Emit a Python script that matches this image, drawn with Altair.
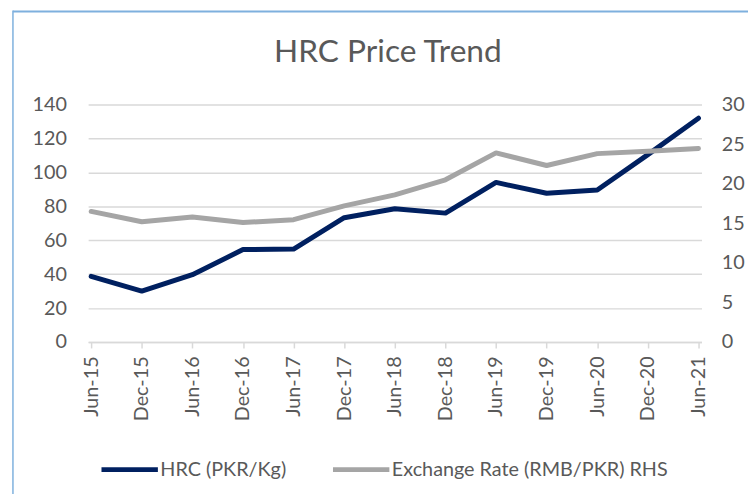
import altair as alt
import pandas as pd

title_text = "HRC Price Trend"
dates = ["Jun-15", "Dec-15", "Jun-16", "Dec-16", "Jun-17", "Dec-17", "Jun-18",
         "Dec-18", "Jun-19", "Dec-19", "Jun-20", "Dec-20", "Jun-21"]
hrc = [38.7, 30.0, 39.7, 54.5, 54.8, 73.3, 78.6, 76.0, 94.1, 87.7, 89.6, 110.5, 132.0]
fx = [16.5, 15.2, 15.8, 15.1, 15.45, 17.2, 18.6, 20.5, 23.9, 22.3, 23.8, 24.1, 24.45]
series_names = ["HRC (PKR/Kg)", "Exchange Rate (RMB/PKR) RHS"]
series_colors = ["#002060", "#A5A5A5"]
left_ticks = [0, 20, 40, 60, 80, 100, 120, 140]
right_ticks = [0, 5, 10, 15, 20, 25, 30]

df1 = pd.DataFrame({"date": dates, "value": hrc, "series": series_names[0]})
df2 = pd.DataFrame({"date": dates, "value": fx, "series": series_names[1]})

TXT = "#595959"
GRID = "#D9D9D9"

xenc = alt.X(
    "date:N", sort=dates, title=None,
    scale=alt.Scale(type="point", padding=0.06),
    axis=alt.Axis(labelAngle=270, labelFontSize=20, labelColor=TXT,
                  domainColor=GRID, domainWidth=1.5, tickColor=GRID,
                  tickWidth=1.5, tickSize=6, labelPadding=8, grid=False),
)
color = alt.Color(
    "series:N",
    scale=alt.Scale(domain=series_names, range=series_colors),
    legend=alt.Legend(title=None, orient="none", legendX=11, legendY=338,
                      direction="horizontal", symbolType="stroke",
                      symbolSize=3249, symbolStrokeWidth=5, labelFontSize=20,
                      labelColor=TXT, labelOffset=0, columnPadding=36,
                      labelLimit=0),
)

left = alt.Chart(df1).mark_line(strokeWidth=5, strokeCap="round", strokeJoin="round").encode(
    x=xenc,
    y=alt.Y("value:Q", title=None, scale=alt.Scale(domain=[0, 140], nice=False),
            axis=alt.Axis(orient="left", values=left_ticks, grid=True, gridColor=GRID,
                          gridWidth=1.5, domain=False, ticks=False, labelPadding=22,
                          labelFontSize=20, labelColor=TXT)),
    color=color,
)
right = alt.Chart(df2).mark_line(strokeWidth=5, strokeCap="round", strokeJoin="round").encode(
    x=xenc,
    y=alt.Y("value:Q", title=None, scale=alt.Scale(domain=[0, 30], nice=False),
            axis=alt.Axis(orient="right", values=right_ticks, grid=False, domain=False,
                          ticks=False, labelPadding=20, labelFontSize=20, labelColor=TXT)),
    color=color,
)

one = pd.DataFrame({"t": [title_text]})
title = alt.Chart(one).mark_text(font="Lato", fontSize=32, color=TXT, align="center",
                                 baseline="alphabetic").encode(
    text="t:N", x=alt.value(303), y=alt.value(-43))
border_left = alt.Chart(one).mark_rule(color="#7EB0DE", strokeWidth=1.5).encode(
    x=alt.value(-76), y=alt.value(-95), y2=alt.value(400))
border_top = alt.Chart(one).mark_rule(color="#7EB0DE", strokeWidth=2).encode(
    x=alt.value(-76), x2=alt.value(700), y=alt.value(-94))

chart = alt.layer(border_left, border_top, title, left, right).resolve_scale(y="independent").properties(
    width=620, height=240,
    autosize=alt.AutoSizeParams(type="none"),
    padding={"left": 81, "top": 95, "right": 47, "bottom": 151},
).configure(font="Lato").configure_view(stroke=None)

chart.save("out.html", embed_options={"renderer": "svg", "actions": False})
